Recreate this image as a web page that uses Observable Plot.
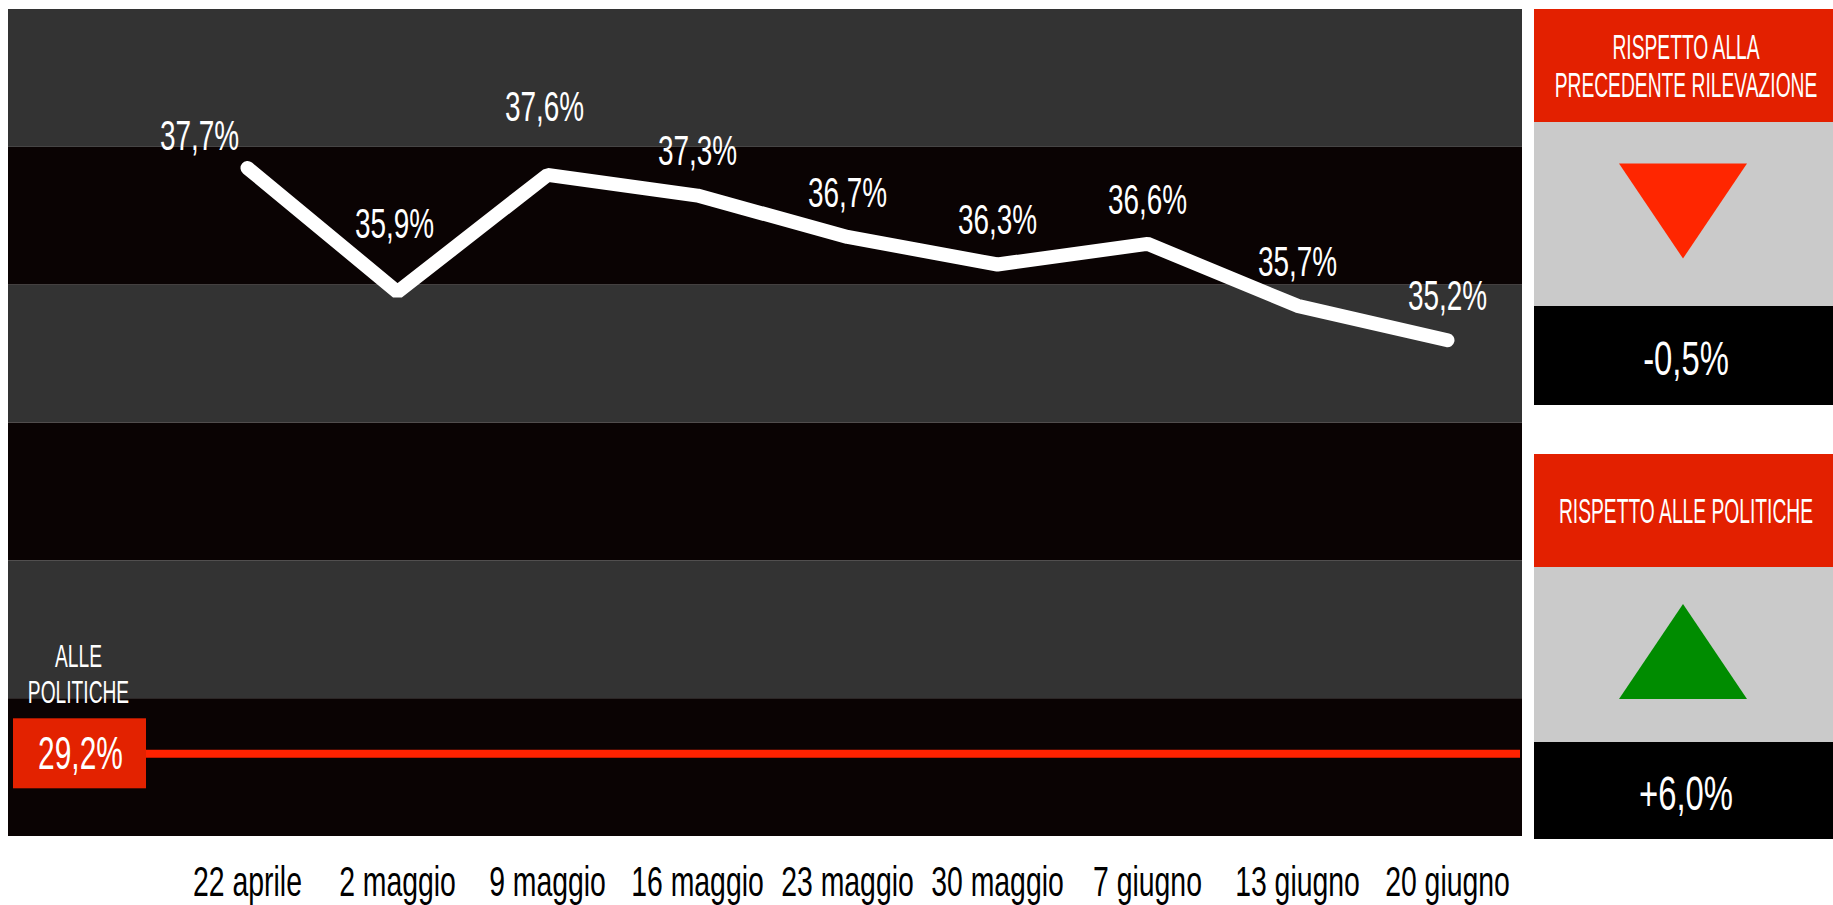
<!DOCTYPE html>
<html><head><meta charset="utf-8">
<script src="https://cdn.jsdelivr.net/npm/d3@7"></script>
<script src="https://cdn.jsdelivr.net/npm/@observablehq/plot@0.6"></script>
<style>
html,body{margin:0;padding:0;background:#fff;}
#wrap{position:relative;width:1833px;height:905px;overflow:hidden;}
#chart{position:absolute;left:0;top:0;}
#side{position:absolute;left:1534px;top:0;}
</style></head>
<body><div id="wrap"><div id="chart"></div><div id="side"></div></div>
<script>
// ---- data ----
const dates = ["22 aprile","2 maggio","9 maggio","16 maggio","23 maggio","30 maggio","7 giugno","13 giugno","20 giugno"];
const values = [37.7, 35.9, 37.6, 37.3, 36.7, 36.3, 36.6, 35.7, 35.2];
const politiche = 29.2;
const politicheLabel = "ALLE\nPOLITICHE";
const bandTicks = [28, 30, 32, 34, 36, 38, 40];
const changeTitles = [["RISPETTO ALLA", "PRECEDENTE RILEVAZIONE"], ["RISPETTO ALLE POLITICHE"]];
const changeValues = [-0.5, 6.0];

// ---- layout helpers ----
const labelPlacement = ["left","high","high","mid","mid","mid","mid","mid","mid"];
const FONT = "'Liberation Sans', Arial, sans-serif";
const W = 1530, H = 905, mt = 9, mb = 69, ml = 8, mr = 8;
const yMin = bandTicks[0], yMax = bandTicks[bandTicks.length - 1];
const pxPerUnit = (H - mt - mb) / (yMax - yMin);
const fmt = v => d3.format(".1f")(Math.abs(v)).replace(".", ",") + "%";
const fmtSigned = v => (v < 0 ? "-" : "+") + fmt(v);

const rows = dates.map((d, i) => ({date: d, value: values[i], place: labelPlacement[i]}));
const bands = d3.pairs(bandTicks).map(([a, b], i) => ({y1: a, y2: b, dark: i % 2 === 0}));

const labelOpts = (dx, dy) => ({x: "date", y: "value", text: d => fmt(d.value), dx, dy, fill: "white", fontSize: 43});

const chart = Plot.plot({
  width: W, height: H,
  marginTop: mt, marginBottom: mb, marginLeft: ml, marginRight: mr,
  style: {background: "#fff", fontFamily: FONT, fontSize: "43px", color: "#000"},
  x: {type: "point", domain: dates, range: [245, 1448], padding: 0, label: null, tickSize: 0, tickPadding: 29},
  y: {domain: [yMin, yMax], axis: null},
  marks: [
    Plot.rect(bands.filter(b => !b.dark), {y1: "y1", y2: "y2", fill: "#333333"}),
    Plot.rect(bands.filter(b => b.dark), {y1: "y1", y2: "y2", fill: "#0a0303"}),
    Plot.ruleY([politiche], {stroke: "#ff2200", strokeWidth: 8, insetLeft: 10, insetRight: 2}),
    Plot.rect([politiche], {y1: d => d - 35 / pxPerUnit, y2: d => d + 35 / pxPerUnit, insetLeft: 5, insetRight: W - ml - mr - 138, fill: "#e32200"}),
    Plot.text([politiche], {y: d => d, frameAnchor: "left", textAnchor: "middle", dx: 72, text: d => fmt(d), fill: "white", fontSize: 46}),
    Plot.text([politiche], {y: d => d, frameAnchor: "left", textAnchor: "middle", dx: 70, dy: -80, text: () => politicheLabel, fill: "white", fontSize: 32, lineHeight: 1.13}),
    Plot.line(rows, {x: "date", y: "value", stroke: "white", strokeWidth: 14, strokeLinecap: "round", strokeLinejoin: "miter"}),
    Plot.text(rows.filter(r => r.place === "mid"), labelOpts(0, -44)),
    Plot.text(rows.filter(r => r.place === "high"), labelOpts(-3, -68)),
    Plot.text(rows.filter(r => r.place === "left"), labelOpts(-48, -32))
  ]
});
d3.select(chart).selectAll("text").each(function() {
  const t = this.getAttribute("transform") || "";
  const p = this.parentNode;
  const white = p && p.getAttribute("fill") === "white";
  const fs = p && p.getAttribute("font-size");
  const s = !white ? 0.66 : (fs === "32" ? 0.6 : 0.65);
  this.setAttribute("transform", t + ` scale(${s},1)`);
});
document.getElementById("chart").appendChild(chart);

// ---- side panels ----
const panels = [
  {top: 9, headerH: 113, grayH: 184, blackH: 99},
  {top: 454, headerH: 113, grayH: 175, blackH: 97}
];
const SW = 299, cx = 149, tx = 152;
const side = d3.select("#side").append("svg").attr("width", SW).attr("height", 905)
  .style("font-family", FONT);
panels.forEach((p, i) => {
  const g = side.append("g");
  const v = changeValues[i];
  g.append("rect").attr("x", 0).attr("y", p.top).attr("width", SW).attr("height", p.headerH).attr("fill", "#e32000");
  g.append("rect").attr("x", 0).attr("y", p.top + p.headerH).attr("width", SW).attr("height", p.grayH).attr("fill", "#cacaca");
  g.append("rect").attr("x", 0).attr("y", p.top + p.headerH + p.grayH).attr("width", SW).attr("height", p.blackH).attr("fill", "#000");
  const lines = changeTitles[i];
  const hc = p.top + p.headerH / 2;
  lines.forEach((ln, j) => {
    const c = hc + (j - (lines.length - 1) / 2) * 37.5;
    g.append("text").attr("text-anchor", "middle").attr("font-size", 35).attr("fill", "#fff")
      .attr("transform", `translate(${tx},${c + 12.5}) scale(0.55,1)`).text(ln);
  });
  const gc = p.top + p.headerH + p.grayH / 2 - 3;
  const tw = 64, th = 47.5;
  const pts = v < 0
    ? [[cx - tw, gc - th], [cx + tw, gc - th], [cx, gc + th]]
    : [[cx, gc - th], [cx + tw, gc + th], [cx - tw, gc + th]];
  g.append("polygon").attr("points", pts.map(q => q.join(",")).join(" "))
    .attr("fill", v < 0 ? "#ff2600" : "#008c00");
  const bc = p.top + p.headerH + p.grayH + p.blackH / 2 + 2;
  g.append("text").attr("text-anchor", "middle").attr("font-size", 49).attr("fill", "#fff")
    .attr("transform", `translate(${tx},${bc + 17.5}) scale(0.67,1)`).text(fmtSigned(v));
});
</script>
</body></html>
